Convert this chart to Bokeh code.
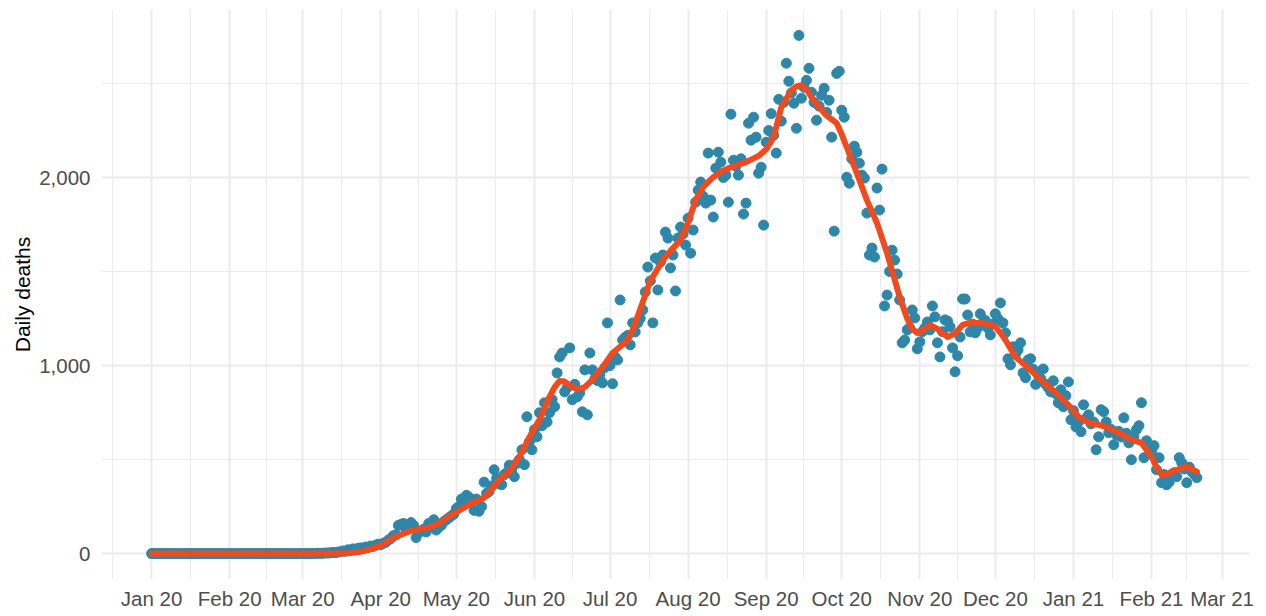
import pandas as pd
from bokeh.plotting import figure
from bokeh.models import Range1d, FixedTicker, NumeralTickFormatter, ColumnDataSource
from bokeh.embed import file_html
from bokeh.resources import INLINE

# ---------------- data ----------------
START_DATE = "2020-01-01"

DAILY_DEATHS = [
    0, 0, 0, 0, 0, 0, 0, 0, 0, 0,
    0, 0, 0, 0, 0, 0, 0, 0, 0, 0,
    0, 0, 0, 0, 0, 0, 0, 0, 0, 0,
    0, 0, 0, 0, 0, 0, 0, 0, 0, 0,
    0, 0, 0, 0, 0, 0, 0, 0, 0, 0,
    0, 0, 0, 0, 0, 0, 0, 0, 0, 0,
    0, 0, 0, 0, 1, 1, 2, 1, 2, 3,
    3, 4, 6, 5, 8, 10, 14, 12, 20, 18,
    25, 22, 28, 30, 26, 35, 33, 40, 38, 45,
    50, 47, 55, 60, 72, 80, 95, 100, 150, 155,
    160, 130, 140, 165, 150, 85, 110, 120, 130, 115,
    160, 145, 180, 125, 140, 150, 170, 180, 190, 200,
    210, 240, 250, 290, 260, 310, 300, 280, 230, 290,
    225, 250, 380, 320, 330, 360, 446, 400, 370, 366,
    420, 430, 470, 440, 409, 480, 500, 552, 473, 728,
    595, 552, 659, 621, 749, 680, 802, 700, 749, 820,
    781, 961, 1046, 1067, 860, 882, 1094, 818, 900, 834,
    855, 754, 977, 738, 1067, 977, 930, 920, 951, 908,
    990, 1227, 1000, 903, 1046, 1030, 1349, 1136, 1150, 1160,
    1110, 1227, 1179, 1227, 1250, 1296, 1391, 1524, 1450, 1227,
    1572, 1402, 1550, 1588, 1710, 1678, 1519, 1588, 1397, 1678,
    1737, 1700, 1641, 1784, 1598, 1721, 1869, 1933, 1976, 1900,
    1864, 2130, 1880, 1790, 2050, 2135, 2082, 2000, 2013, 1869,
    2337, 2092, 2060, 2013, 2100, 1806, 1864, 2289, 2199, 2321,
    2215, 2023, 2055, 1747, 2188, 2250, 2340, 2225, 2130, 2416,
    2300, 2400, 2608, 2512, 2450, 2395, 2262, 2756, 2422, 2480,
    2517, 2581, 2454, 2400, 2305, 2380, 2438, 2475, 2347, 2411,
    2215, 1715, 2554, 2565, 2358, 2321, 2002, 1970, 2100, 2167,
    2135, 2076, 2013, 1997, 1811, 1588, 1625, 1577, 1944, 1827,
    2045, 1317, 1375, 1500, 1614, 1561, 1487, 1349, 1121, 1136,
    1190, 1200, 1296, 1253, 1089, 1126, 1180, 1200, 1232, 1190,
    1317, 1259, 1121, 1046, 1180, 1243, 1237, 1206, 1094, 967,
    1052, 1152, 1354, 1354, 1269, 1179, 1220, 1174, 1200, 1275,
    1227, 1240, 1200, 1163, 1220, 1275, 1250, 1333, 1227, 1174,
    1036, 1004, 1100, 1060, 1083, 1121, 961, 935, 1030, 1036,
    980, 900, 950, 930, 982, 900, 882, 860, 919, 850,
    802, 871, 781, 840, 913, 712, 760, 674, 700, 648,
    791, 720, 738, 690, 700, 552, 621, 765, 754, 700,
    643, 660, 579, 632, 650, 620, 722, 640, 589, 499,
    620, 659, 680, 802, 510, 600, 560, 540, 574, 446,
    510, 377, 420, 366, 380, 420, 430, 409, 510, 483,
    450, 377, 460, 435, 420, 404,
]

# smoothed trend line
SMOOTH_DATES = [
    "2020-01-01", "2020-03-16", "2020-03-20", "2020-03-24", "2020-03-27",
    "2020-03-31", "2020-04-03", "2020-04-07", "2020-04-12", "2020-04-16",
    "2020-04-20", "2020-04-24", "2020-04-28", "2020-05-02", "2020-05-06",
    "2020-05-12", "2020-05-15", "2020-05-18", "2020-05-22", "2020-05-26",
    "2020-05-30", "2020-06-03", "2020-06-07", "2020-06-09", "2020-06-11",
    "2020-06-13", "2020-06-15", "2020-06-17", "2020-06-19", "2020-06-21",
    "2020-06-24", "2020-06-28", "2020-07-02", "2020-07-05", "2020-07-08",
    "2020-07-10", "2020-07-13", "2020-07-17", "2020-07-22", "2020-07-25",
    "2020-07-29", "2020-08-01", "2020-08-04", "2020-08-07", "2020-08-11",
    "2020-08-14", "2020-08-17", "2020-08-21", "2020-08-24", "2020-08-29",
    "2020-09-01", "2020-09-04", "2020-09-07", "2020-09-11", "2020-09-13",
    "2020-09-15", "2020-09-17", "2020-09-19", "2020-09-22", "2020-09-25",
    "2020-09-27", "2020-09-29", "2020-10-01", "2020-10-03", "2020-10-07",
    "2020-10-11", "2020-10-15", "2020-10-19", "2020-10-24", "2020-10-27",
    "2020-10-29", "2020-10-31", "2020-11-02", "2020-11-05", "2020-11-08",
    "2020-11-12", "2020-11-15", "2020-11-18", "2020-11-21", "2020-11-25",
    "2020-11-29", "2020-12-01", "2020-12-03", "2020-12-05", "2020-12-09",
    "2020-12-15", "2020-12-19", "2020-12-26", "2020-12-30", "2021-01-03",
    "2021-01-07", "2021-01-11", "2021-01-14", "2021-01-19", "2021-01-24",
    "2021-01-28", "2021-02-01", "2021-02-03", "2021-02-05", "2021-02-07",
    "2021-02-09", "2021-02-12", "2021-02-15", "2021-02-19",
]
SMOOTH_VALUES = [
    0, 0, 3, 10, 20,
    37, 58, 90, 117, 130,
    138, 160, 196, 228, 260,
    297, 340, 393, 435, 515,
    620, 712, 834, 885, 918,
    915, 895, 880, 876, 885,
    924, 990, 1067, 1100, 1136,
    1190, 1300, 1450, 1561, 1610,
    1667, 1760, 1880, 1950, 2002,
    2030, 2050, 2068, 2082, 2115,
    2150, 2215, 2374, 2464, 2485,
    2491, 2470, 2427, 2375, 2331,
    2310, 2289, 2230, 2161, 2023,
    1880, 1758, 1598, 1365, 1250,
    1195, 1174, 1185, 1216, 1195,
    1152, 1170, 1216, 1228, 1227,
    1218, 1206, 1175, 1136, 1046,
    977, 924, 844, 790, 728,
    696, 685, 674, 643, 605,
    589, 515, 460, 420, 422,
    435, 450, 462, 435,
]

X_TICK_DATES = [
    "2020-01-01", "2020-02-01", "2020-03-01", "2020-04-01", "2020-05-01",
    "2020-06-01", "2020-07-01", "2020-08-01", "2020-09-01", "2020-10-01",
    "2020-11-01", "2020-12-01", "2021-01-01", "2021-02-01", "2021-03-01",
]
X_TICK_LABELS = [
    "Jan 20", "Feb 20", "Mar 20", "Apr 20", "May 20", "Jun 20", "Jul 20",
    "Aug 20", "Sep 20", "Oct 20", "Nov 20", "Dec 20", "Jan 21", "Feb 21", "Mar 21",
]
Y_TICKS = [0, 1000, 2000]
Y_MINOR_TICKS = [500, 1500, 2500]
Y_LABEL = "Daily deaths"

# ---------------- styling ----------------
POINT_COLOR = "#2E87A8"
LINE_COLOR = "#F04B1F"
GRID_COLOR = "#EBEBEB"
TICK_COLOR = "#4D4D4D"
FONT = "Liberation Sans"
DAY_MS = 86400000


def ms(s):
    return pd.Timestamp(s).value // 10**6


dates = pd.date_range(START_DATE, periods=len(DAILY_DEATHS), freq="D")
src = ColumnDataSource(dict(date=dates, deaths=DAILY_DEATHS))
smooth = ColumnDataSource(dict(date=pd.to_datetime(SMOOTH_DATES), value=SMOOTH_VALUES))

tick_ms = [ms(d) for d in X_TICK_DATES]
minor_ms = [tick_ms[0] - (tick_ms[1] - tick_ms[0]) / 2]
minor_ms += [(a + b) / 2 for a, b in zip(tick_ms[:-1], tick_ms[1:])]

x0 = ms(START_DATE)
p = figure(
    width=1257, height=612, x_axis_type="datetime",
    output_backend="svg", toolbar_location=None,
    x_range=Range1d(x0 - 19.9 * DAY_MS, x0 + 435.9 * DAY_MS),
    y_range=Range1d(-137.8, 2893.8),
    min_border_left=101, min_border_right=8, min_border_top=9, min_border_bottom=33,
)
p.outline_line_color = None
p.background_fill_color = "white"
p.border_fill_color = "white"

p.xaxis.ticker = FixedTicker(ticks=tick_ms, minor_ticks=minor_ms)
p.xaxis.major_label_overrides = {t: lab for t, lab in zip(tick_ms, X_TICK_LABELS)}
p.yaxis.ticker = FixedTicker(ticks=Y_TICKS, minor_ticks=Y_MINOR_TICKS)
p.yaxis.formatter = NumeralTickFormatter(format="0,0")

for ax in (p.xaxis, p.yaxis):
    ax.axis_line_color = None
    ax.major_tick_line_color = None
    ax.minor_tick_line_color = None
    ax.major_tick_out = 0
    ax.major_tick_in = 0
    ax.minor_tick_out = 0
    ax.minor_tick_in = 0
    ax.major_label_text_font = FONT
    ax.major_label_text_font_size = "20.5px"
    ax.major_label_text_color = TICK_COLOR
p.xaxis.major_label_standoff = 7
p.yaxis.major_label_standoff = 11

p.yaxis.axis_label = Y_LABEL
p.yaxis.axis_label_text_font = FONT
p.yaxis.axis_label_text_font_size = "21px"
p.yaxis.axis_label_text_font_style = "normal"
p.yaxis.axis_label_text_color = "black"
p.yaxis.axis_label_standoff = 2

for g in (p.xgrid, p.ygrid):
    g.grid_line_color = GRID_COLOR
    g.grid_line_width = 2
    g.minor_grid_line_color = GRID_COLOR
    g.minor_grid_line_width = 1

p.scatter("date", "deaths", source=src, size=10, color=POINT_COLOR, line_color=POINT_COLOR)
p.line("date", "value", source=smooth, line_width=6, line_color=LINE_COLOR,
       line_join="round", line_cap="round")

open("out.html", "w").write(file_html(p, INLINE))
